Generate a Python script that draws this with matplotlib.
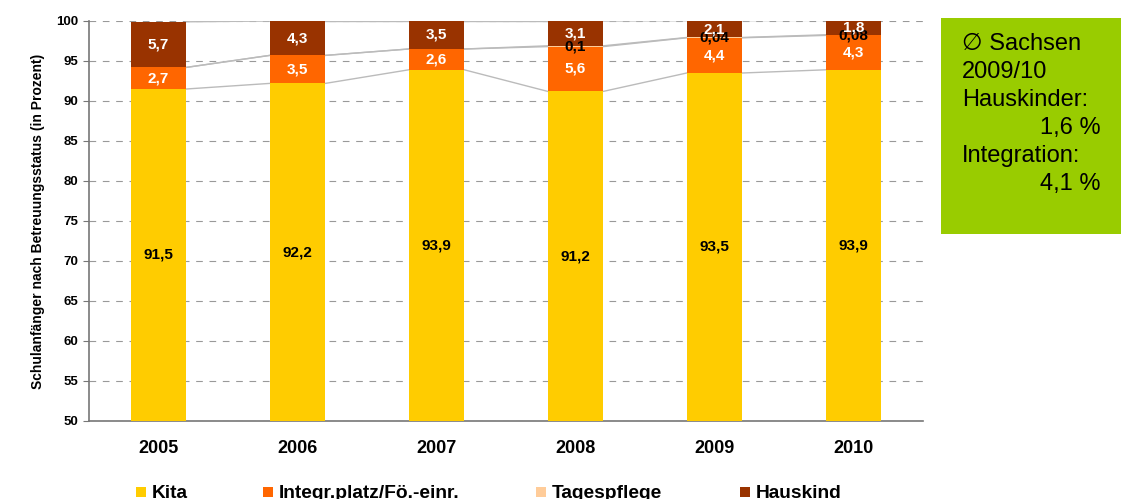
import numpy as np
import matplotlib.pyplot as plt
from matplotlib.patches import Rectangle

plt.rcParams['font.family'] = ['Liberation Sans', 'DejaVu Sans']

# Schulanfaenger nach Betreuungsstatus, Anteile in Prozent
years = ['2005', '2006', '2007', '2008', '2009', '2010']
kita = [91.5, 92.2, 93.9, 91.2, 93.5, 93.9]
integr = [2.7, 3.5, 2.6, 5.6, 4.4, 4.3]
tagespflege = [0.0, 0.0, 0.0, 0.1, 0.04, 0.08]
hauskind = [5.7, 4.3, 3.5, 3.1, 2.1, 1.8]

series = [
    ('Kita', kita, '#FFCC00', 'black'),
    ('Integr.platz/Fö.-einr.', integr, '#FF6600', 'white'),
    ('Tagespflege', tagespflege, '#FFCC99', 'black'),
    ('Hauskind', hauskind, '#993300', 'white'),
]

def fmt(v):
    return ('%g' % v).replace('.', ',')

W, H = 1121, 499
fig = plt.figure(figsize=(W / 100, H / 100), dpi=100)
ax = fig.add_axes([89 / W, 78 / H, 834 / W, 400 / H])

x = np.arange(len(years))
width = 0.4
bottom = np.zeros(len(years))
levels = []
for name, vals, col, tcol in series:
    vals = np.array(vals)
    ax.bar(x, vals, width, bottom=bottom, color=col, label=name, zorder=3)
    for i, v in enumerate(vals):
        if v <= 0:
            continue
        lo = max(bottom[i], 50)
        yc = (lo + bottom[i] + v) / 2
        ax.text(x[i], yc, fmt(v), ha='center', va='center', color=tcol,
                fontsize=11, fontweight='bold', zorder=5)
    bottom = bottom + vals
    levels.append(bottom.copy())

# series lines between neighbouring bars
for lev in levels:
    for i in range(len(years) - 1):
        ax.plot([x[i] + width / 2, x[i + 1] - width / 2], [lev[i], lev[i + 1]],
                color='#BBBBBB', lw=1, zorder=2)

ax.set_xlim(-0.5, len(years) - 0.5)
ax.set_ylim(50, 100)
ax.set_yticks(np.arange(50, 101, 5))
ax.yaxis.grid(True, color='#999999', linestyle=(0, (6, 6)), lw=0.8, zorder=0)
ax.set_xticks(x)
ax.set_xticklabels(years, fontsize=13, fontweight='bold')
ax.tick_params(axis='x', length=0, pad=14)
ax.tick_params(axis='y', labelsize=9.5, length=4, color='#777777')
for lab in ax.get_yticklabels():
    lab.set_fontweight('bold')
for s in ['top', 'right']:
    ax.spines[s].set_visible(False)
for s in ['left', 'bottom']:
    ax.spines[s].set_color('#777777')
    ax.spines[s].set_linewidth(1.2)
ax.set_ylabel('Schulanfänger nach Betreuungsstatus (in Prozent)',
              fontsize=10, fontweight='bold', labelpad=8)

# legend row along the bottom edge
leg_x = [136, 263, 536, 740]
for (name, vals, col, tcol), lx in zip(series, leg_x):
    fig.patches.append(Rectangle((lx / W, 2 / H), 10 / W, 10 / H,
                                 transform=fig.transFigure, facecolor=col,
                                 edgecolor='none'))
    fig.text((lx + 16) / W, 1 / H, name, ha='left', va='baseline',
             fontsize=13.8, fontweight='bold')

# green info box
fig.patches.append(Rectangle((941 / W, (H - 234) / H), 180 / W, 216 / H,
                             transform=fig.transFigure, facecolor='#99CC00',
                             edgecolor='none'))
box_lines = [('∅ Sachsen', 'left'), ('2009/10', 'left'), ('Hauskinder:', 'left'),
             ('1,6 %', 'right'), ('Integration:', 'left'), ('4,1 %', 'right')]
for k, (txt, al) in enumerate(box_lines):
    yy = 1 - (44 + 28 * k) / H
    xx = 962 / W if al == 'left' else 1101 / W
    fig.text(xx, yy, txt, ha=al, va='center', fontsize=17, color='black')

fig.savefig('out.png', dpi=100)
